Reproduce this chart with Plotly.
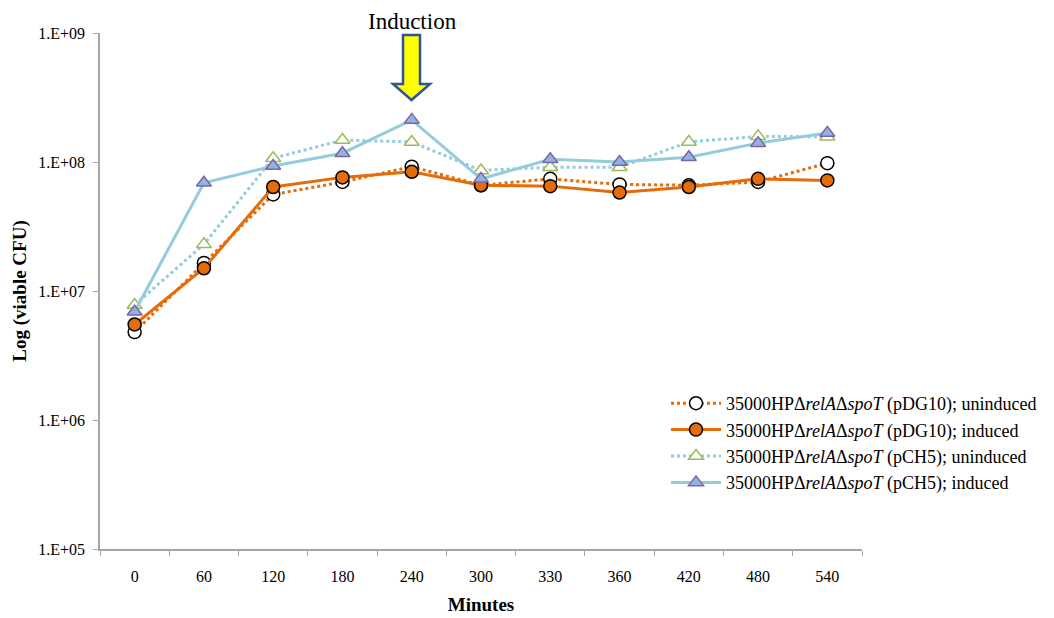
import plotly.graph_objects as go

# Sampling times (minutes) shown as categories on the x axis
minutes = ["0", "60", "120", "180", "240", "300", "330", "360", "420", "480", "540"]

# Viable CFU counts per strain / condition
pdg10_uninduced = [4.8e6, 1.65e7, 5.6e7, 7.0e7, 9.2e7, 6.6e7, 7.4e7, 6.7e7, 6.6e7, 7.0e7, 9.8e7]
pdg10_induced = [5.5e6, 1.5e7, 6.4e7, 7.6e7, 8.4e7, 6.6e7, 6.5e7, 5.8e7, 6.4e7, 7.4e7, 7.2e7]
pch5_uninduced = [7.8e6, 2.3e7, 1.07e8, 1.48e8, 1.43e8, 8.6e7, 9.1e7, 9.1e7, 1.43e8, 1.58e8, 1.57e8]
pch5_induced = [6.9e6, 6.9e7, 9.3e7, 1.17e8, 2.12e8, 7.4e7, 1.05e8, 1.0e8, 1.09e8, 1.40e8, 1.68e8]

y_tickvals = [1e5, 1e6, 1e7, 1e8, 1e9]
y_ticktext = ["1.E+05", "1.E+06", "1.E+07", "1.E+08", "1.E+09"]

ORANGE = "#E46C0A"
LIGHT_BLUE = "#93CDDD"
SERIF = "Liberation Serif"

strain = "35000HPΔ<i>relA</i>Δ<i>spoT</i>"

fig = go.Figure()

fig.add_trace(go.Scatter(
    x=minutes, y=pdg10_uninduced, mode="lines+markers",
    name=f"{strain} (pDG10); uninduced",
    line=dict(color=ORANGE, width=3, dash="dot"),
    marker=dict(symbol="circle", size=13, color="white",
                line=dict(color="black", width=1.5)),
))
fig.add_trace(go.Scatter(
    x=minutes, y=pdg10_induced, mode="lines+markers",
    name=f"{strain} (pDG10); induced",
    line=dict(color=ORANGE, width=3),
    marker=dict(symbol="circle", size=13, color=ORANGE,
                line=dict(color="black", width=1.5)),
))
fig.add_trace(go.Scatter(
    x=minutes, y=pch5_uninduced, mode="lines+markers",
    name=f"{strain} (pCH5); uninduced",
    line=dict(color=LIGHT_BLUE, width=3, dash="dot"),
    marker=dict(symbol="triangle-up", size=13, color="white",
                line=dict(color="#9BBB59", width=1.5)),
))
fig.add_trace(go.Scatter(
    x=minutes, y=pch5_induced, mode="lines+markers",
    name=f"{strain} (pCH5); induced",
    line=dict(color=LIGHT_BLUE, width=3),
    marker=dict(symbol="triangle-up", size=13, color="#8EB4E3",
                line=dict(color="#8064A2", width=1.5)),
))

# Block arrow marking the induction time point (paper coordinates)
L, R, T, B = 100, 862, 33, 549
def px(xp):
    return (xp - L) / (R - L)
def py(yp):
    return (B - yp) / (B - T)

arrow_pts = [(403, 35), (420, 35), (420, 84), (430, 84), (411.5, 100),
             (393, 84), (403, 84)]
path = "M " + " L ".join(f"{px(a):.5f},{py(b):.5f}" for a, b in arrow_pts) + " Z"
fig.add_shape(type="path", xref="paper", yref="paper", path=path,
              fillcolor="#FFFF00", line=dict(color="#2F5597", width=2.5))
fig.add_annotation(text="Induction", xref="paper", yref="paper",
                   x=px(412), y=py(22), showarrow=False,
                   font=dict(family=SERIF, size=23, color="black"),
                   xanchor="center", yanchor="middle")

fig.update_layout(
    width=1054, height=618,
    margin=dict(l=L, r=1054 - R, t=T, b=618 - B, autoexpand=False),
    paper_bgcolor="white", plot_bgcolor="white",
    font=dict(family=SERIF, size=16, color="black"),
    showlegend=True,
    legend=dict(x=px(666), y=py(385), xanchor="left", yanchor="top",
                font=dict(family=SERIF, size=18), bgcolor="rgba(0,0,0,0)",
                itemwidth=50, tracegroupgap=0),
    xaxis=dict(
        type="category", range=[-0.5, 10.5],
        showline=True, linecolor="#A6A6A6", linewidth=1.5,
        ticks="outside", tickson="boundaries", ticklen=5, tickcolor="#A6A6A6",
        ticklabelstandoff=12,
        showgrid=False, zeroline=False,
        tickfont=dict(family=SERIF, size=16),
        title=dict(text="<b>Minutes</b>", font=dict(family=SERIF, size=19), standoff=14),
    ),
    yaxis=dict(
        type="log", range=[5, 9], showline=True, linecolor="#A6A6A6", linewidth=1.5,
        ticks="outside", ticklen=5, tickcolor="#A6A6A6",
        ticklabelstandoff=5,
        tickvals=y_tickvals, ticktext=y_ticktext,
        showgrid=False, zeroline=False,
        tickfont=dict(family=SERIF, size=16),
        title=dict(text="<b>Log (viable CFU)</b>", font=dict(family=SERIF, size=19), standoff=7),
    ),
)

fig.write_html("out.html")
